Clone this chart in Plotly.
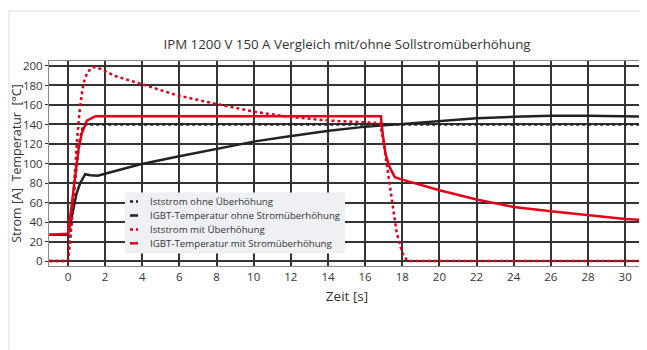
import plotly.graph_objects as go

# --- data ---
t_ist_ohne = [-1, 0, 0.2, 0.4, 0.6, 0.8, 1.0, 31]
v_ist_ohne = [0, 0, 40, 85, 120, 138, 140, 140]

t_temp_ohne = [-1, 0, 0.28, 0.46, 0.65, 0.93, 1.2, 1.6, 2.5, 3.85, 5.86, 8, 10.07, 11.84, 14.05, 15.8, 18, 20, 22, 24, 26, 28, 30, 31]
v_temp_ohne = [27, 27, 52, 69, 79.5, 89, 88, 87.4, 92, 99, 107, 115, 122.7, 127.8, 133.6, 137.3, 140.7, 143.8, 146.5, 147.9, 148.9, 148.9, 148.5, 148]

t_ist_mit = [-1, 0, 0.19, 0.37, 0.5, 0.65, 0.83, 1.05, 1.39, 1.76, 2.5, 3.87, 5.86, 8, 10.07, 11.84, 14.05, 15.8, 16.8, 17.0, 17.25, 17.5, 17.7, 18.0, 18.25, 18.4, 31]
v_ist_mit = [0, 0, 38.6, 90, 127, 158, 182, 194, 199, 197, 190, 182, 170, 161, 153, 148, 144, 142.4, 141.4, 121, 87, 56, 29, 8.5, 0.7, 0, 0]

t_temp_mit = [-1, 0, 0.19, 0.37, 0.56, 0.74, 1.02, 1.48, 16.85, 16.95, 17.1, 17.3, 17.6, 18.0, 20, 22, 24, 26, 28, 30, 31]
v_temp_mit = [27, 28, 55.6, 84.6, 113.6, 130.7, 144, 148.5, 148.5, 130, 110, 97, 86, 83.5, 72.6, 63, 55.5, 51, 46.7, 43, 42]

series_names = ["Iststrom ohne Überhöhung", "IGBT-Temperatur ohne Stromüberhöhung",
                "Iststrom mit Überhöhung", "IGBT-Temperatur mit Stromüberhöhung"]

x_ticks = list(range(0, 31, 2))
y_ticks = list(range(0, 201, 20))

RED = "#e2001a"
BLACK = "#222222"
FONT = "Open Sans"
DOT = "3px,3px"

styles = [dict(color=BLACK, width=2.5, dash=DOT), dict(color=BLACK, width=2.5),
          dict(color=RED, width=2.5, dash=DOT), dict(color=RED, width=2.5)]

fig = go.Figure()
for (tx, vy), name, st in zip([(t_ist_ohne, v_ist_ohne), (t_temp_ohne, v_temp_ohne),
                                (t_ist_mit, v_ist_mit), (t_temp_mit, v_temp_mit)], series_names, styles):
    fig.add_trace(go.Scatter(x=tx, y=vy, mode="lines", name=name, line=st, showlegend=False))

# the page body has an 8px margin: work in screen pixels and subtract it
O = 8
W, H = 647 - O, 350 - O
L, R, T, B = 49 - O, 645 - O, 61 - O, 266 - O
def px(x):
    return (x - O - L) / (R - L)
def py(y):
    return (B - (y - O)) / (B - T)

shapes = [
    dict(type="rect", xref="paper", yref="paper", x0=px(9), x1=1.2, y0=-0.8, y1=py(11),
         line=dict(color="#eceef3", width=2), fillcolor="rgba(0,0,0,0)", layer="below"),
    dict(type="rect", xref="paper", yref="paper", x0=px(125), x1=px(345), y0=py(253.5), y1=py(192.5),
         line=dict(width=0), fillcolor="#eef0f4", layer="above"),
]
annotations = []
rows = [201.5, 215.5, 229.5, 243.3]
for yrow, name, st in zip(rows, series_names, styles):
    shapes.append(dict(type="line", xref="paper", yref="paper", x0=px(130), x1=px(138), y0=py(yrow), y1=py(yrow),
                       line=dict(color=st["color"], width=2.5, dash=st.get("dash", "solid")), layer="above"))
    annotations.append(dict(text=name, xref="paper", yref="paper", x=px(148), y=py(yrow), xanchor="left",
                            yanchor="middle", showarrow=False, font=dict(size=9.7, color="#333333", family=FONT)))

fig.update_layout(
    width=W, height=H,
    margin=dict(l=L, r=W - R, t=T, b=H - B),
    paper_bgcolor="white", plot_bgcolor="white",
    font=dict(family=FONT, color="#333333", size=11),
    showlegend=False,
    title=dict(text="IPM 1200 V 150 A Vergleich mit/ohne Sollstromüberhöhung",
               x=(347 - O) / W, xanchor="center", y=1 - (44 - O) / H, yanchor="middle",
               font=dict(size=13.3, color="#333333", family=FONT)),
    xaxis=dict(range=[-1.02, 31.07], tickvals=x_ticks, showgrid=True, gridcolor="#333333", gridwidth=1.5,
               zeroline=False, showline=True, linecolor="#888888", linewidth=1, mirror=True, automargin=False,
               ticks="", ticklabelstandoff=0, tickfont=dict(size=11.5),
               title=dict(text="Zeit [s]", font=dict(size=13.5), standoff=8)),
    yaxis=dict(range=[-5.1, 205.1], tickvals=y_ticks, showgrid=True, gridcolor="#333333", gridwidth=1.5,
               zeroline=False, showline=True, linecolor="#888888", linewidth=1, mirror=True, automargin=False,
               ticks="outside", ticklen=3, tickcolor="#333333", tickfont=dict(size=11.5),
               title=dict(text="Strom [A]\u00a0\u00a0Temperatur\u00a0\u00a0[°C]", font=dict(size=12.5), standoff=6)),
    shapes=shapes,
    annotations=annotations,
)

fig.write_html("out.html")
